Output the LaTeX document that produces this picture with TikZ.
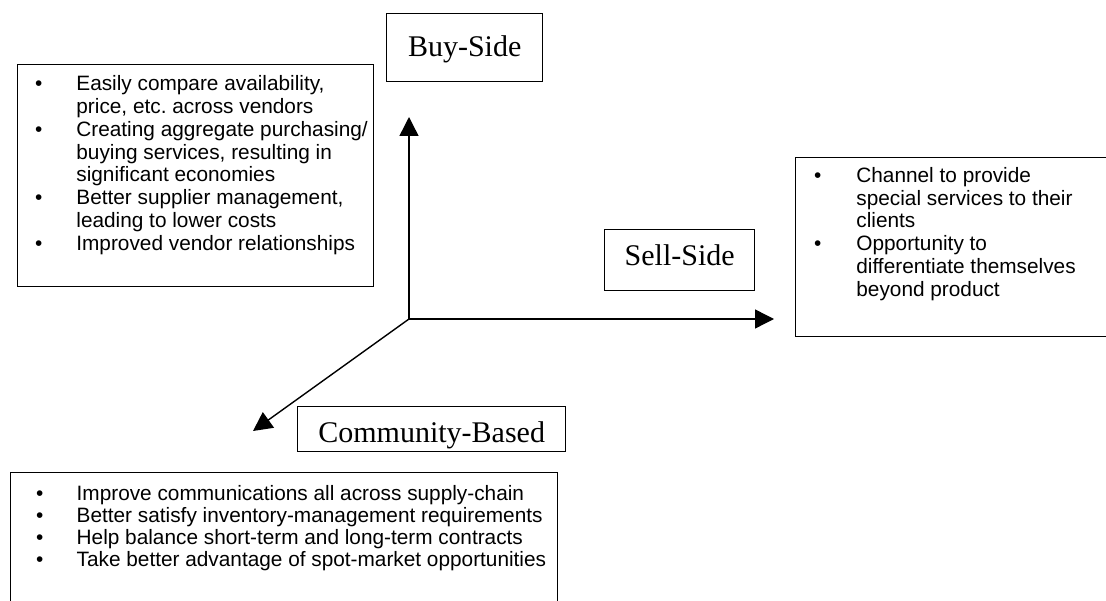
\documentclass[tikz,border=0pt]{standalone}
\usepackage{fontspec}
\setmainfont{Liberation Serif}
\newfontfamily\listfont{Liberation Sans}
\usetikzlibrary{arrows.meta}
\frenchspacing
\newcommand{\bulletlist}[4]{\makebox[#1][l]{\hspace*{#2}%
  \begin{tabular}[t]{@{}p{#3}@{}l@{}}#4\end{tabular}}}

\begin{document}
\begin{tikzpicture}[
      x=1pt, y=-1pt,
      tag/.style={draw, line width=1.4pt, anchor=north west,
                  font=\fontsize{30}{36}\selectfont, inner sep=0pt},
      listbox/.style={draw, line width=1.4pt, anchor=north west,
                  font=\listfont\fontsize{20.8}{22.8}\selectfont, inner sep=0pt},
      arr/.style={-{Triangle[length=19pt,width=19pt]}, line width=1.4pt}
    ]
    \useasboundingbox (0,0) rectangle (1106,601);

    \node[tag, minimum width=156pt, text height=43pt, text depth=25pt]
      (buy) at (386,13) {Buy-Side};
    \node[tag, minimum width=150pt, text height=36pt, text depth=25pt]
      (sell) at (604,229) {Sell-Side};
    \node[tag, minimum width=268pt, text height=35.7pt, text depth=9.3pt]
      (community) at (297,406) {Community-Based};

    \node[listbox, text height=26pt, text depth=196pt] (buylist) at (17,64)
      {\bulletlist{356pt}{17.4pt}{41.3pt}{%
        \textbullet & Easily compare availability,\\
                    & price, etc. across vendors\\
        \textbullet & Creating aggregate purchasing/\\
                    & buying services, resulting in\\
                    & significant economies\\
        \textbullet & Better supplier management,\\
                    & leading to lower costs\\
        \textbullet & Improved vendor relationships}};
    \node[listbox, text height=24.7pt, text depth=154.3pt] (selllist) at (795,157)
      {\bulletlist{340pt}{18.4pt}{42.3pt}{%
        \textbullet & Channel to provide\\
                    & special services to their\\
                    & clients\\
        \textbullet & Opportunity to\\
                    & differentiate themselves\\
                    & beyond product}};
    \node[listbox, font=\listfont\fontsize{20.8}{21.8}\selectfont,
          text height=28pt, text depth=160pt] (communitylist) at (10,472)
      {\bulletlist{547pt}{25.4pt}{40.6pt}{%
        \textbullet & Improve communications all across supply-chain\\
        \textbullet & Better satisfy inventory-management requirements\\
        \textbullet & Help balance short-term and long-term contracts\\
        \textbullet & Take better advantage of spot-market opportunities}};

    \coordinate (hub) at (409,319);
    \coordinate (buytip) at (409,117);
    \coordinate (selltip) at (774,319);
    \coordinate (communitytip) at (253,431);

    \draw[arr] (hub) -- (buytip);
    \draw[arr] (hub) -- (selltip);
    \draw[arr] (hub) -- (communitytip);
  \end{tikzpicture}
\end{document}
